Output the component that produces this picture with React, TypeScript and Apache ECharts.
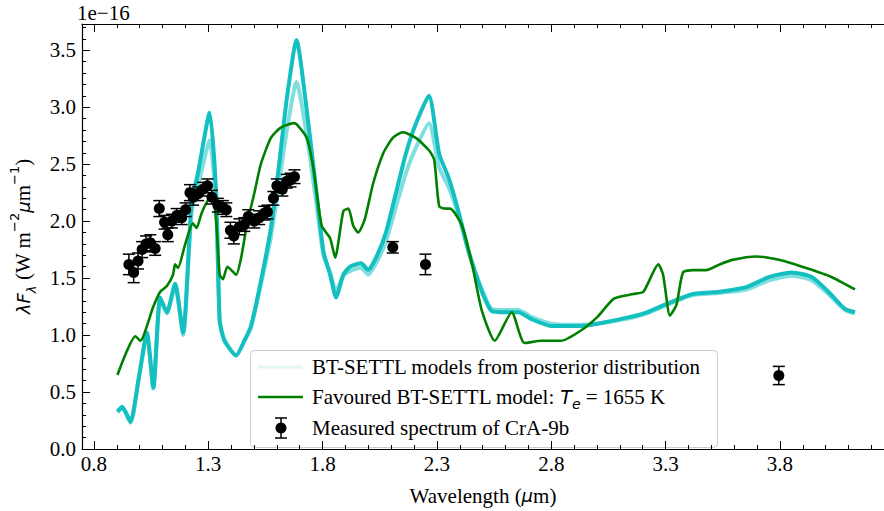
import React, { useEffect, useRef } from "react";
import * as echarts from "echarts";

// ---------- data ----------
const postLam = [0.903, 0.924, 0.96, 0.995, 1.032, 1.06, 1.09, 1.119, 1.155, 1.19, 1.227, 1.255, 1.306, 1.335, 1.35, 1.371, 1.422, 1.458, 1.487, 1.53, 1.574, 1.61, 1.644, 1.686, 1.731, 1.774, 1.804, 1.833, 1.859, 1.891, 1.92, 1.969, 1.999, 2.034, 2.077, 2.12, 2.164, 2.207, 2.265, 2.31, 2.353, 2.396, 2.439, 2.497, 2.54, 2.597, 2.656, 2.713, 2.8, 2.93, 3.002, 3.146, 3.219, 3.289, 3.419, 3.536, 3.652, 3.753, 3.852, 3.939, 4.012, 4.084, 4.128];
const postA = [0.33, 0.37, 0.24, 0.61, 1.02, 0.54, 1.33, 1.2, 1.45, 1.02, 2.16, 2.42, 2.95, 2.22, 1.13, 0.95, 0.82, 0.95, 1.08, 1.47, 1.94, 2.5, 3.08, 3.59, 2.97, 2.24, 1.73, 1.53, 1.33, 1.53, 1.6, 1.63, 1.57, 1.68, 1.9, 2.24, 2.59, 2.85, 3.1, 2.59, 2.37, 2.07, 1.73, 1.38, 1.21, 1.2, 1.2, 1.14, 1.08, 1.08, 1.1, 1.16, 1.2, 1.26, 1.36, 1.38, 1.42, 1.51, 1.55, 1.51, 1.38, 1.23, 1.2];
const postB = [0.32, 0.36, 0.23, 0.6, 1.0, 0.53, 1.31, 1.19, 1.43, 1.0, 2.08, 2.3, 2.71, 2.1, 1.12, 0.96, 0.82, 0.95, 1.07, 1.44, 1.86, 2.34, 2.8, 3.22, 2.75, 2.14, 1.7, 1.55, 1.39, 1.52, 1.56, 1.59, 1.53, 1.63, 1.82, 2.12, 2.42, 2.64, 2.86, 2.47, 2.29, 2.04, 1.73, 1.4, 1.23, 1.22, 1.22, 1.16, 1.1, 1.09, 1.1, 1.15, 1.19, 1.25, 1.35, 1.37, 1.4, 1.48, 1.52, 1.48, 1.36, 1.22, 1.19];

const bestLam = [0.903, 0.982, 1.003, 1.06, 1.09, 1.119, 1.146, 1.155, 1.168, 1.198, 1.233, 1.249, 1.271, 1.298, 1.319, 1.335, 1.35, 1.364, 1.384, 1.422, 1.444, 1.471, 1.501, 1.53, 1.574, 1.617, 1.674, 1.687, 1.731, 1.761, 1.796, 1.833, 1.855, 1.891, 1.913, 1.934, 1.956, 1.985, 2.021, 2.064, 2.107, 2.151, 2.208, 2.266, 2.288, 2.31, 2.337, 2.358, 2.41, 2.454, 2.497, 2.553, 2.627, 2.683, 2.757, 2.843, 2.93, 3.002, 3.074, 3.159, 3.203, 3.268, 3.289, 3.319, 3.348, 3.376, 3.419, 3.478, 3.536, 3.592, 3.695, 3.796, 3.911, 4.025, 4.128];
const bestFlux = [0.65, 0.99, 0.95, 1.25, 1.38, 1.43, 1.53, 1.62, 1.59, 1.79, 1.98, 1.94, 2.07, 2.18, 2.22, 1.99, 1.53, 1.49, 1.6, 1.53, 1.68, 1.99, 2.24, 2.5, 2.73, 2.82, 2.86, 2.85, 2.73, 2.45, 1.96, 1.85, 1.68, 2.09, 2.11, 1.96, 1.9, 2.02, 2.33, 2.59, 2.73, 2.78, 2.73, 2.62, 2.54, 2.13, 2.11, 2.11, 1.96, 1.62, 1.21, 0.95, 1.2, 0.93, 0.95, 0.95, 1.04, 1.16, 1.32, 1.36, 1.38, 1.62, 1.53, 1.17, 1.27, 1.55, 1.57, 1.57, 1.62, 1.66, 1.69, 1.66, 1.59, 1.51, 1.4];

const obsLam = [0.953, 0.974, 0.993, 1.011, 1.028, 1.047, 1.068, 1.086, 1.109, 1.123, 1.141, 1.162, 1.184, 1.201, 1.22, 1.234, 1.256, 1.277, 1.297, 1.316, 1.342, 1.364, 1.379, 1.397, 1.412, 1.436, 1.458, 1.475, 1.501, 1.523, 1.545, 1.559, 1.585, 1.6, 1.624, 1.643, 1.66, 1.677, 2.107, 2.25, 3.795];
const obsFlux = [1.62, 1.55, 1.65, 1.75, 1.8, 1.81, 1.76, 2.11, 1.99, 1.88, 2.0, 2.05, 2.03, 2.1, 2.25, 2.21, 2.24, 2.28, 2.31, 2.21, 2.14, 2.12, 2.1, 1.92, 1.87, 1.95, 1.97, 2.04, 2.0, 2.03, 2.07, 2.08, 2.2, 2.31, 2.28, 2.35, 2.36, 2.39, 1.77, 1.62, 0.645];
const obsErr = [0.09, 0.09, 0.07, 0.07, 0.07, 0.07, 0.06, 0.07, 0.06, 0.06, 0.06, 0.06, 0.06, 0.06, 0.07, 0.07, 0.06, 0.06, 0.06, 0.06, 0.06, 0.06, 0.06, 0.07, 0.07, 0.07, 0.06, 0.06, 0.06, 0.06, 0.06, 0.06, 0.06, 0.06, 0.06, 0.06, 0.06, 0.06, 0.05, 0.09, 0.08];

const xMajor = [0.8, 1.3, 1.8, 2.3, 2.8, 3.3, 3.8];
const xMinor = [0.9, 1.0, 1.1, 1.2, 1.4, 1.5, 1.6, 1.7, 1.9, 2.0, 2.1, 2.2, 2.4, 2.5, 2.6, 2.7, 2.9, 3.0, 3.1, 3.2, 3.4, 3.5, 3.6, 3.7, 3.9, 4.0, 4.1, 4.2];
const yMajor = [0, 0.5, 1.0, 1.5, 2.0, 2.5, 3.0, 3.5];
const yMinor = [0.1, 0.2, 0.3, 0.4, 0.6, 0.7, 0.8, 0.9, 1.1, 1.2, 1.3, 1.4, 1.6, 1.7, 1.8, 1.9, 2.1, 2.2, 2.3, 2.4, 2.6, 2.7, 2.8, 2.9, 3.1, 3.2, 3.3, 3.4, 3.6, 3.7];

const legendLabels = [
  "BT-SETTL models from posterior distribution",
  "Favoured BT-SETTL model: ",
  "Measured spectrum of CrA-9b",
];

const SERIF = "'Liberation Serif', 'Times New Roman', serif";
const MATH = "'DejaVu Sans', sans-serif";
const FS = 21;

export default function App() {
  const ref = useRef<HTMLDivElement>(null);
  useEffect(() => {
    if (!ref.current) return;
    const chart = echarts.init(ref.current, null, { renderer: "svg" });
    const X_MIN = 0.748, X_MAX = 4.255, Y_MIN = 0, Y_MAX = 3.73;

    const xBase = (pos: string, ticks: number[], len: number, labels: boolean, line: boolean, extra: any = {}) => ({
      type: "value",
      min: X_MIN,
      max: X_MAX,
      position: pos,
      gridIndex: 0,
      axisLine: { show: line, onZero: false, lineStyle: { color: "#000", width: 1.2 } },
      axisTick: { show: true, inside: true, length: len, customValues: ticks, lineStyle: { color: "#000", width: 1 } },
      axisLabel: labels
        ? { show: true, customValues: ticks, formatter: (v: number) => v.toFixed(1), color: "#000", fontFamily: SERIF, fontSize: FS, margin: 4 }
        : { show: false },
      splitLine: { show: false },
      ...extra,
    });
    const yBase = (pos: string, ticks: number[], len: number, labels: boolean, line: boolean, extra: any = {}) => ({
      type: "value",
      min: Y_MIN,
      max: Y_MAX,
      position: pos,
      gridIndex: 0,
      axisLine: { show: line, onZero: false, lineStyle: { color: "#000", width: 1.2 } },
      axisTick: { show: true, inside: true, length: len, customValues: ticks, lineStyle: { color: "#000", width: 1 } },
      axisLabel: labels
        ? { show: true, customValues: ticks, formatter: (v: number) => v.toFixed(1), color: "#000", fontFamily: SERIF, fontSize: FS, margin: 6 }
        : { show: false },
      splitLine: { show: false },
      ...extra,
    });

    const errData = obsLam.map((l, i) => [l, obsFlux[i], obsErr[i]]);

    chart.setOption({
      animation: false,
      grid: { left: 76, top: 24, right: -2, bottom: 53, containLabel: false },
      xAxis: [
        xBase("bottom", xMajor, 8, true, true, {
          name: "{n|Wavelength (}{m|μ}{n|m)}",
          nameLocation: "middle",
          nameGap: 36,
          nameTextStyle: {
            rich: {
              n: { fontFamily: SERIF, fontSize: FS, color: "#000" },
              m: { fontFamily: MATH, fontSize: 18, fontStyle: "italic", color: "#000" },
            },
          },
        }),
        xBase("bottom", xMinor, 4, false, false),
        xBase("top", xMajor, 8, false, true),
        xBase("top", xMinor, 4, false, false),
      ],
      yAxis: [
        yBase("left", yMajor, 8, true, true, {
          name: "{m|λF}{s|λ}{n| (W m}{p|−2}{m|μ}{n|m}{p|−1}{n|)}",
          nameLocation: "middle",
          nameRotate: 90,
          nameGap: 44,
          nameTextStyle: {
            rich: {
              n: { fontFamily: SERIF, fontSize: FS, color: "#000", lineHeight: 30, verticalAlign: "middle" },
              m: { fontFamily: MATH, fontSize: 18, fontStyle: "italic", color: "#000", lineHeight: 30, verticalAlign: "middle" },
              s: { fontFamily: MATH, fontSize: 13, fontStyle: "italic", color: "#000", verticalAlign: "bottom", lineHeight: 30 },
              p: { fontFamily: MATH, fontSize: 13, color: "#000", verticalAlign: "top", lineHeight: 30 },
            },
          },
        }),
        yBase("left", yMinor, 4, false, false),
      ],
      series: [
        {
          type: "line",
          xAxisIndex: 0,
          yAxisIndex: 0,
          data: postLam.map((l, i) => [l, postB[i]]),
          showSymbol: false,
          smooth: 0.2,
          lineStyle: { color: "rgba(0,191,191,0.5)", width: 4 },
          z: 2,
        },
        {
          type: "line",
          xAxisIndex: 0,
          yAxisIndex: 0,
          data: postLam.map((l, i) => [l, postA[i]]),
          showSymbol: false,
          smooth: 0.2,
          lineStyle: { color: "#14bfc0", width: 4 },
          z: 2,
        },
        {
          type: "line",
          xAxisIndex: 0,
          yAxisIndex: 0,
          data: bestLam.map((l, i) => [l, bestFlux[i]]),
          showSymbol: false,
          smooth: 0.2,
          lineStyle: { color: "#008000", width: 2.6 },
          z: 3,
        },
        {
          type: "custom",
          xAxisIndex: 0,
          yAxisIndex: 0,
          data: errData,
          z: 4,
          renderItem: (params: any, api: any) => {
            const x = api.value(0), y = api.value(1), e = api.value(2);
            const p = api.coord([x, y]);
            const lo = api.coord([x, y - e]);
            const hi = api.coord([x, y + e]);
            const cap = 6;
            const st = { stroke: "#000", lineWidth: 1.5 };
            return {
              type: "group",
              children: [
                { type: "line", shape: { x1: p[0], y1: lo[1], x2: p[0], y2: hi[1] }, style: st },
                { type: "line", shape: { x1: p[0] - cap, y1: lo[1], x2: p[0] + cap, y2: lo[1] }, style: st },
                { type: "line", shape: { x1: p[0] - cap, y1: hi[1], x2: p[0] + cap, y2: hi[1] }, style: st },
                { type: "circle", shape: { cx: p[0], cy: p[1], r: 5.5 }, style: { fill: "#000" } },
              ],
            };
          },
        },
      ],
      graphic: [
        {
          type: "text",
          left: 77,
          top: 2,
          style: { text: "1e−16", fontFamily: SERIF, fontSize: FS, fill: "#000" },
          z: 10,
        },
        {
          type: "group",
          z: 20,
          children: [
            {
              type: "rect",
              shape: { x: 250.5, y: 350.5, width: 467, height: 97, r: 4 },
              style: { fill: "rgba(255,255,255,0.8)", stroke: "#cccccc", lineWidth: 1 },
            },
            { type: "line", shape: { x1: 258, y1: 367, x2: 303, y2: 367 }, style: { stroke: "#e3f6f6", lineWidth: 3 } },
            { type: "line", shape: { x1: 258, y1: 397, x2: 303, y2: 397 }, style: { stroke: "#008000", lineWidth: 2.6 } },
            { type: "line", shape: { x1: 281, y1: 418, x2: 281, y2: 438 }, style: { stroke: "#000", lineWidth: 1.5 } },
            { type: "line", shape: { x1: 275, y1: 418, x2: 287, y2: 418 }, style: { stroke: "#000", lineWidth: 1.5 } },
            { type: "line", shape: { x1: 275, y1: 438, x2: 287, y2: 438 }, style: { stroke: "#000", lineWidth: 1.5 } },
            { type: "circle", shape: { cx: 281, cy: 428, r: 5.5 }, style: { fill: "#000" } },
            {
              type: "text",
              x: 312,
              y: 367,
              style: { text: legendLabels[0], fontFamily: SERIF, fontSize: FS, fill: "#000", verticalAlign: "middle" },
            },
            {
              type: "text",
              x: 312,
              y: 397,
              style: {
                text: "{n|" + legendLabels[1] + "}{m|T}{s|e}{n| = 1655 K}",
                verticalAlign: "middle",
                rich: {
                  n: { fontFamily: SERIF, fontSize: FS, fill: "#000", lineHeight: 28, verticalAlign: "middle" },
                  m: { fontFamily: MATH, fontSize: 19, fontStyle: "italic", fill: "#000", lineHeight: 28, verticalAlign: "middle" },
                  s: { fontFamily: MATH, fontSize: 14, fontStyle: "italic", fill: "#000", lineHeight: 28, verticalAlign: "bottom" },
                },
              },
            },
            {
              type: "text",
              x: 312,
              y: 428,
              style: { text: legendLabels[2], fontFamily: SERIF, fontSize: FS, fill: "#000", verticalAlign: "middle" },
            },
          ],
        },
      ],
    });
    return () => chart.dispose();
  }, []);
  return <div ref={ref} style={{ position: "absolute", left: 0, top: 0, width: 884, height: 511 }} />;
}
